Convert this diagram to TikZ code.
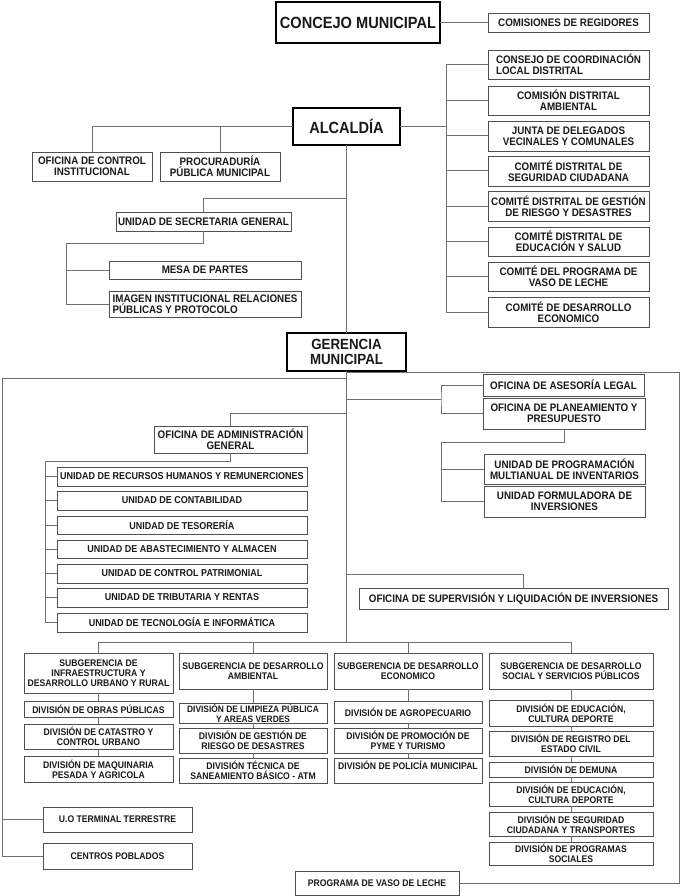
\documentclass[tikz,border=0pt]{standalone}
\usepackage{fontspec}
\setmainfont{Liberation Sans}[FakeStretch=0.9]
\definecolor{bd}{HTML}{505050}
\definecolor{ln}{HTML}{707070}
\newcommand\fbig{\fontsize{16.2}{17}\selectfont\bfseries}
\newcommand\fmid{\fontsize{14.8}{15}\selectfont\bfseries}
\newcommand\ftop{\fontsize{10.9}{11.2}\selectfont\bfseries}
\newcommand\fsml{\fontsize{10}{10.5}\selectfont\bfseries}
\newcommand\fxs{\fontsize{9.6}{10}\selectfont\bfseries}
\tikzset{
  box/.style={draw=bd, line width=0.9pt, fill=white, inner sep=0pt, outer sep=0pt,
    align=center, font=\ftop, text=black!90},
  mainbox/.style={box, draw=black, line width=2.6pt},
  conn/.style={draw=ln, line width=1pt},
  sm/.style={font=\fsml},
  xs/.style={font=\fxs}
}
\newcommand\obox[7][]{\node[box,minimum width={(#5-#3)*1pt},minimum height={(#6-#4)*1pt},#1] (#2) at ({(#3+#5)/2},{(#4+#6)/2}) {#7};}
\begin{document}
\begin{tikzpicture}[x=1pt,y=-1pt]
\fill[white] (0,0) rectangle (681,896);
\useasboundingbox (0,0) rectangle (681,896);

% ---------- top ----------
\obox[mainbox,font=\fbig]{concejo}{276}{2}{440}{43}{CONCEJO MUNICIPAL}
\obox{comis}{488}{13}{649}{32}{COMISIONES DE REGIDORES}
\obox[align=left]{c1}{488}{50}{649}{79}{CONSEJO DE COORDINACIÓN\\LOCAL DISTRITAL}
\obox{c2}{488}{86}{649}{115}{COMISIÓN DISTRITAL\\AMBIENTAL}
\obox{c3}{488}{121}{649}{151}{JUNTA DE DELEGADOS\\VECINALES Y COMUNALES}
\obox{c4}{488}{156}{649}{186}{COMITÉ DISTRITAL DE\\SEGURIDAD CIUDADANA}
\obox{c5}{488}{191}{649}{221}{COMITÉ DISTRITAL DE GESTIÓN\\DE RIESGO Y DESASTRES}
\obox{c6}{488}{227}{649}{256}{COMITÉ DISTRITAL DE\\EDUCACIÓN Y SALUD}
\obox{c7}{488}{262}{649}{291}{COMITÉ DEL PROGRAMA DE\\VASO DE LECHE}
\obox{c8}{488}{297}{649}{327}{COMITÉ DE DESARROLLO\\ECONOMICO}

\obox[mainbox,font=\fbig]{alc}{293}{108}{400}{145}{ALCALDÍA}
\obox{ctrl}{32}{152}{152}{181}{OFICINA DE CONTROL\\INSTITUCIONAL}
\obox{proc}{160}{152}{280}{181}{PROCURADURÍA\\PÚBLICA MUNICIPAL}
\obox{sec}{116}{212}{291}{231}{UNIDAD DE SECRETARIA GENERAL}
\obox{mesa}{109}{261}{301}{279}{MESA DE PARTES}
\obox[align=left]{img}{109}{291}{301}{317}{IMAGEN INSTITUCIONAL RELACIONES\\PÚBLICAS Y PROTOCOLO}

\obox[mainbox,font=\fmid]{ger}{287}{333}{406}{371}{GERENCIA\\MUNICIPAL}

% ---------- middle ----------
\obox{ases}{483}{374}{644}{396}{OFICINA DE ASESORÍA LEGAL}
\obox{plan}{483}{398}{645}{429}{OFICINA DE PLANEAMIENTO Y\\PRESUPUESTO}
\obox{prg}{484}{454}{645}{484}{UNIDAD DE PROGRAMACIÓN\\MULTIANUAL DE INVENTARIOS}
\obox{form}{484}{486}{645}{517}{UNIDAD FORMULADORA DE\\INVERSIONES}
\obox{adm}{154}{426}{307}{453}{OFICINA DE ADMINISTRACIÓN\\GENERAL}
\obox[sm]{u1}{57}{467}{307}{486}{UNIDAD DE RECURSOS HUMANOS Y REMUNERCIONES}
\obox[sm]{u2}{57}{491}{307}{510}{UNIDAD DE CONTABILIDAD}
\obox[sm]{u3}{57}{516}{307}{534}{UNIDAD DE TESORERÍA}
\obox[sm]{u4}{57}{540}{307}{558}{UNIDAD DE ABASTECIMIENTO Y ALMACEN}
\obox[sm]{u5}{57}{564}{307}{583}{UNIDAD DE CONTROL PATRIMONIAL}
\obox[sm]{u6}{57}{588}{307}{607}{UNIDAD DE TRIBUTARIA Y RENTAS}
\obox[sm]{u7}{57}{613}{307}{632}{UNIDAD DE TECNOLOGÍA E INFORMÁTICA}
\obox{sup}{359}{588}{668}{609}{OFICINA DE SUPERVISIÓN Y LIQUIDACIÓN DE INVERSIONES}

% ---------- bottom ----------
\obox[xs]{s1}{24}{653}{173}{693}{SUBGERENCIA DE\\INFRAESTRUCTURA Y\\DESARROLLO URBANO Y RURAL}
\obox[xs]{s2}{179}{653}{327}{689}{SUBGERENCIA DE DESARROLLO\\AMBIENTAL}
\obox[xs]{s3}{334}{653}{482}{689}{SUBGERENCIA DE DESARROLLO\\ECONOMICO}
\obox[xs]{s4}{489}{653}{653}{689}{SUBGERENCIA DE DESARROLLO\\SOCIAL Y SERVICIOS PÚBLICOS}

\obox[xs]{d11}{24}{701}{173}{717}{DIVISIÓN DE OBRAS PÚBLICAS}
\obox[xs]{d12}{24}{724}{173}{749}{DIVISIÓN DE CATASTRO Y\\CONTROL URBANO}
\obox[xs]{d13}{24}{756}{173}{782}{DIVISIÓN DE MAQUINARIA\\PESADA Y AGRICOLA}

\obox[xs,font=\fontsize{9.3}{10}\selectfont\bfseries]{d21}{179}{703}{327}{723}{DIVISIÓN DE LIMPIEZA PÚBLICA\\Y AREAS VERDES}
\obox[xs]{d22}{179}{728}{327}{753}{DIVISIÓN DE GESTIÓN DE\\RIESGO DE DESASTRES}
\obox[xs]{d23}{179}{758}{327}{783}{DIVISIÓN TÉCNICA DE\\SANEAMIENTO BÁSICO - ATM}

\obox[xs]{d31}{334}{701}{482}{723}{DIVISIÓN DE AGROPECUARIO}
\obox[xs]{d32}{334}{728}{482}{753}{DIVISIÓN DE PROMOCIÓN DE\\PYME Y TURISMO}
\obox[xs]{d33}{334}{758}{482}{783}{DIVISIÓN DE POLICÍA MUNICIPAL\\\phantom{X}}

\obox[xs]{d41}{489}{700}{653}{726}{DIVISIÓN DE EDUCACIÓN,\\CULTURA DEPORTE}
\obox[xs]{d42}{489}{731}{653}{756}{DIVISIÓN DE REGISTRO DEL\\ESTADO CIVIL}
\obox[xs]{d43}{489}{762}{653}{777}{DIVISIÓN DE DEMUNA}
\obox[xs]{d44}{489}{782}{653}{806}{DIVISIÓN DE EDUCACIÓN,\\CULTURA DEPORTE}
\obox[xs]{d45}{489}{812}{653}{836}{DIVISIÓN DE SEGURIDAD\\CIUDADANA Y TRANSPORTES}
\obox[xs]{d46}{489}{842}{653}{865}{DIVISIÓN DE PROGRAMAS\\SOCIALES}

\obox[xs]{uo}{43}{807}{192}{832}{U.O TERMINAL TERRESTRE}
\obox[xs]{cp}{43}{843}{192}{869}{CENTROS POBLADOS}
\obox[xs]{prog}{295}{871}{459}{895}{PROGRAMA DE VASO DE LECHE}

% ---------- connectors ----------
\draw[conn] (concejo.east) -- (concejo.east -| comis.west);

\coordinate (rb) at (446,126.5);
\draw[conn] (alc.east) -- (rb);
\draw[conn] (c1.west -| rb) -- (c8.west -| rb);
\foreach \n in {c1,c2,c3,c4,c5,c6,c7,c8} \draw[conn] (\n.west -| rb) -- (\n.west);

\draw[conn] (alc.west) -| (ctrl.north);
\draw[conn] (proc.north) -- (proc.north |- alc.west);
\draw[conn] (alc.south) -- (ger.north);

\coordinate (j1) at (346.5,198);
\draw[conn] (j1) -| (sec.north);
\coordinate (sb) at (66,243);
\draw[conn] (sec.south) |- (sb) |- (img.west);
\draw[conn] (sb |- mesa.west) -- (mesa.west);

\coordinate (gb) at (346.5,642);
\draw[conn] (ger.south) -- (gb);

\coordinate (rf) at (346.5,372);
\coordinate (rf1) at (679,372);
\draw[conn] (rf) -- (rf1) |- (prog.east);

\coordinate (lf) at (346.5,378);
\coordinate (lf1) at (2,378);
\draw[conn] (lf) -- (lf1) |- (cp.west);
\draw[conn] (lf1 |- uo.west) -- (uo.west);

\coordinate (ja) at (346.5,399);
\coordinate (ag) at (441,399);
\draw[conn] (ja) -- (ag);
\draw[conn] (ases.west) -| (ag) |- (plan.west);
\coordinate (pb) at (441,442);
\draw[conn] (plan.south) |- (pb) |- (form.west);
\draw[conn] (pb |- prg.west) -- (prg.west);

\coordinate (jad) at (346.5,413);
\draw[conn] (jad) -| (adm.north);
\coordinate (ab) at (45,461);
\draw[conn] (adm.south) |- (ab) |- (u7.west);
\foreach \n in {u1,u2,u3,u4,u5,u6} \draw[conn] (ab |- \n.west) -- (\n.west);

\coordinate (jsu) at (346.5,574);
\coordinate (sut) at (523,588);
\draw[conn] (jsu) -| (sut);

\draw[conn] (s1.north) |- (gb);
\draw[conn] (gb) -| (s4.north);
\draw[conn] (s2.north) -- (s2.north |- gb);
\draw[conn] (s3.north) -- (s3.north |- gb);

\draw[conn] (s1.south) -- (d11.north);
\draw[conn] (d11.south) -- (d12.north);
\draw[conn] (d12.south) -- (d13.north);
\draw[conn] (s2.south) -- (d21.north);
\draw[conn] (d21.south) -- (d22.north);
\draw[conn] (d22.south) -- (d23.north);
\draw[conn] (s3.south) -- (d31.north);
\draw[conn] (d31.south) -- (d32.north);
\draw[conn] (d32.south) -- (d33.north);
\draw[conn] (s4.south) -- (d41.north);
\draw[conn] (d41.south) -- (d42.north);
\draw[conn] (d42.south) -- (d43.north);
\draw[conn] (d43.south) -- (d44.north);
\draw[conn] (d44.south) -- (d45.north);
\draw[conn] (d45.south) -- (d46.north);
\end{tikzpicture}
\end{document}
